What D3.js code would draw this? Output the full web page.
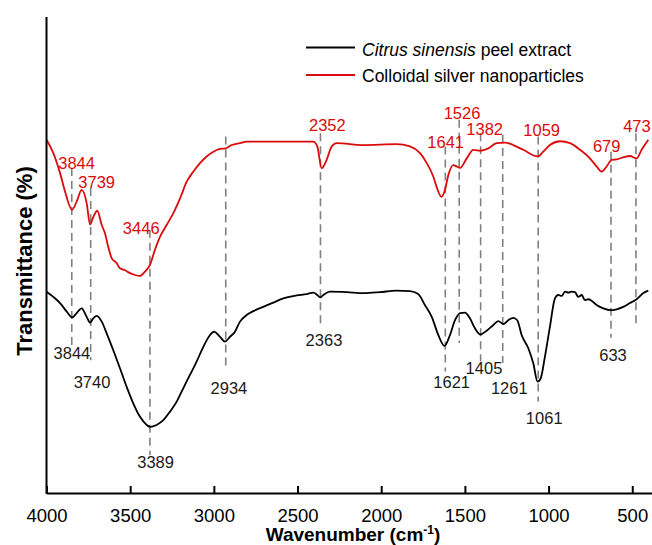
<!DOCTYPE html>
<html>
<head>
<meta charset="utf-8">
<script src="https://cdn.jsdelivr.net/npm/d3@7"></script>
<style>
  body { margin: 0; background: #fff; }
  svg text { font-family: "Liberation Sans", Arial, sans-serif; }
</style>
</head>
<body>
<svg id="chart" width="652" height="545"></svg>
<script>
// FTIR spectra, wavenumber (cm-1) and relative transmittance
var extractWn = [4000, 3959, 3919, 3879, 3847, 3820, 3790, 3760, 3740, 3720, 3700, 3670, 3640, 3601, 3561, 3521, 3481, 3441, 3401, 3380,
    3342, 3302, 3262, 3222, 3183, 3143, 3103, 3063, 3023, 2999, 2963, 2934, 2904, 2874, 2844, 2804, 2764, 2705, 2645, 2585,
    2505, 2445, 2406, 2382, 2365, 2346, 2306, 2206, 2107, 2007, 1908, 1828, 1779, 1739, 1698, 1659, 1622, 1589, 1559, 1529,
    1500, 1470, 1440, 1408, 1370, 1330, 1301, 1268, 1241, 1211, 1187, 1161, 1121, 1091, 1066, 1047, 1022, 992, 962, 942,
    922, 902, 882, 862, 842, 823, 802, 783, 763, 743, 713, 673, 633, 593, 554, 514, 474, 434, 404];
var extractT = [42.3, 41.2, 39.9, 38.1, 36.9, 37.8, 38.8, 37.0, 35.8, 36.7, 37.2, 36.0, 33.5, 30.0, 26.2, 22.3, 18.8, 16.0, 14.3, 13.9,
    14.3, 15.3, 17.1, 19.2, 22.0, 24.8, 27.6, 30.7, 33.2, 33.9, 32.8, 31.8, 32.8, 33.9, 36.0, 37.4, 38.2, 39.1, 40.0, 40.9,
    41.5, 41.8, 42.1, 41.6, 41.1, 41.6, 42.3, 42.2, 42.0, 42.2, 42.5, 42.4, 41.8, 39.5, 37.0, 33.2, 30.9, 33.2, 36.3, 37.8,
    37.9, 36.7, 34.6, 33.3, 34.1, 35.3, 36.1, 35.5, 36.3, 36.8, 36.3, 33.2, 30.4, 27.2, 23.4, 24.1, 28.6, 34.9, 40.9, 41.6,
    41.4, 42.3, 42.1, 42.3, 42.2, 41.2, 41.6, 40.5, 40.7, 40.4, 39.5, 38.8, 38.4, 38.6, 39.1, 39.9, 40.7, 42.0, 42.5];

var silverWn = [4000, 3959, 3919, 3889, 3847, 3820, 3790, 3760, 3740, 3720, 3697, 3670, 3651, 3631, 3610, 3581, 3561, 3531, 3501, 3471,
    3441, 3412, 3382, 3352, 3322, 3282, 3242, 3202, 3162, 3123, 3083, 3043, 3003, 2963, 2929, 2893, 2844, 2804, 2605, 2406,
    2382, 2356, 2326, 2296, 2266, 2107, 1908, 1828, 1768, 1728, 1689, 1667, 1640, 1619, 1599, 1569, 1549, 1529, 1489, 1450,
    1406, 1360, 1310, 1261, 1211, 1151, 1065, 1032, 992, 932, 872, 812, 753, 713, 683, 653, 623, 593, 554, 514,
    474, 444, 404];
var silverT = [74.2, 71.4, 67.2, 63.3, 59.5, 61.2, 63.7, 60.9, 56.4, 58.0, 59.3, 56.3, 54.6, 51.7, 49.3, 48.3, 47.2, 46.8, 46.2, 45.8,
    45.6, 46.5, 47.9, 51.1, 53.8, 56.3, 58.8, 61.9, 65.4, 67.5, 69.3, 70.7, 71.7, 72.3, 72.4, 73.1, 73.5, 73.8, 73.8, 73.8,
    72.8, 68.2, 70.0, 72.8, 73.5, 73.1, 73.3, 72.8, 71.4, 69.3, 66.5, 64.1, 62.2, 63.7, 66.8, 68.9, 68.6, 68.3, 70.3, 72.1,
    71.9, 72.4, 73.5, 73.6, 73.1, 72.1, 70.7, 71.7, 73.1, 73.9, 73.5, 72.1, 70.3, 68.6, 67.5, 68.6, 70.0, 70.1, 70.5, 70.8,
    70.3, 72.1, 74.2];

// dashed guide lines: wavenumber, top and bottom (transmittance units)
var guideWn = [3849, 3736, 3382, 2929, 2363, 1617, 1534, 1406, 1274, 1062, 627, 478];
var guideTop = [68.3, 64.1, 55.3, 74.9, 75.6, 72.8, 78.4, 75.6, 75.2, 74.9, 71.7, 75.6];
var guideBottom = [31.1, 27.9, 8.0, 26.5, 35.3, 25.5, 31.5, 27.6, 27.3, 19.2, 32.6, 35.3];

// peak labels: text, wavenumber, transmittance of the label centre
var silverLabels = ['3844', '3739', '3446', '2352', '1641', '1526', '1382', '1059', '679', '473'];
var silverLabelWn = [3820, 3700, 3434, 2322, 1615, 1517, 1382, 1041, 653, 472];
var silverLabelT = [69.3, 65.4, 55.6, 77.3, 73.8, 79.8, 76.4, 76.3, 72.8, 77.0];
var extractLabels = ['3844', '3740', '3389', '2934', '2363', '1621', '1405', '1261', '1061', '633'];
var extractLabelWn = [3848, 3728, 3348, 2910, 2342, 1579, 1386, 1235, 1026, 615];
var extractLabelT = [29.5, 23.4, 6.4, 22.1, 32.1, 23.4, 26.2, 22.0, 15.7, 29.0];

var xTicks = [4000, 3500, 3000, 2500, 2000, 1500, 1000, 500];

var RED = '#dc0a0a';

var svg = d3.select('#chart');
var x = d3.scaleLinear().domain([4000, 382]).range([46.5, 652]);
var y = d3.scaleLinear().domain([0, 100]).range([493, 17]);

// guide lines
svg.append('g').selectAll('line').data(guideWn).enter().append('line')
    .attr('x1', function (d) { return x(d); })
    .attr('x2', function (d) { return x(d); })
    .attr('y1', function (d, i) { return y(guideTop[i]); })
    .attr('y2', function (d, i) { return y(guideBottom[i]); })
    .attr('stroke', '#808080')
    .attr('stroke-width', 1.6)
    .attr('stroke-dasharray', '8,5');

var line = d3.line()
    .x(function (d) { return x(d[0]); })
    .y(function (d) { return y(d[1]); })
    .curve(d3.curveMonotoneX);

svg.append('path')
    .datum(d3.zip(extractWn, extractT))
    .attr('d', line)
    .attr('fill', 'none')
    .attr('stroke', '#000')
    .attr('stroke-width', 1.8);

svg.append('path')
    .datum(d3.zip(silverWn, silverT))
    .attr('d', line)
    .attr('fill', 'none')
    .attr('stroke', RED)
    .attr('stroke-width', 1.8);

// axes
var xAxis = svg.append('g')
    .attr('transform', 'translate(0,493)')
    .call(d3.axisBottom(x).tickValues(xTicks).tickSizeInner(-7).tickSizeOuter(0).tickPadding(15.5).tickFormat(d3.format('d')));
xAxis.select('.domain').attr('stroke-width', 2);
xAxis.selectAll('.tick line').attr('stroke-width', 2);
xAxis.selectAll('.tick text')
    .attr('font-size', '18.5px')
    .attr('fill', '#000')
    .style('font-family', '"Liberation Sans", Arial, sans-serif');

svg.append('line')
    .attr('x1', 46.5).attr('x2', 46.5)
    .attr('y1', 17).attr('y2', 494)
    .attr('stroke', '#000')
    .attr('stroke-width', 2);

// peak labels
svg.append('g').selectAll('text').data(silverLabels).enter().append('text')
    .attr('x', function (d, i) { return x(silverLabelWn[i]); })
    .attr('y', function (d, i) { return y(silverLabelT[i]); })
    .attr('dy', '0.36em')
    .attr('text-anchor', 'middle')
    .attr('font-size', '16.5px')
    .attr('fill', RED)
    .text(function (d) { return d; });

svg.append('g').selectAll('text').data(extractLabels).enter().append('text')
    .attr('x', function (d, i) { return x(extractLabelWn[i]); })
    .attr('y', function (d, i) { return y(extractLabelT[i]); })
    .attr('dy', '0.36em')
    .attr('text-anchor', 'middle')
    .attr('font-size', '16.5px')
    .attr('fill', '#1a1a1a')
    .text(function (d) { return d; });

// legend
var legend = svg.append('g');
legend.append('line').attr('x1', 306).attr('x2', 355).attr('y1', 47.5).attr('y2', 47.5)
    .attr('stroke', '#000').attr('stroke-width', 1.8);
legend.append('line').attr('x1', 306).attr('x2', 355).attr('y1', 75).attr('y2', 75)
    .attr('stroke', RED).attr('stroke-width', 1.8);
var t1 = legend.append('text').attr('x', 362).attr('y', 55.5).attr('font-size', '17.5px');
t1.append('tspan').attr('font-style', 'italic').text('Citrus sinensis');
t1.append('tspan').text(' peel extract');
legend.append('text').attr('x', 362).attr('y', 82.3).attr('font-size', '17.5px')
    .text('Colloidal silver nanoparticles');

// axis titles
var xt = svg.append('text')
    .attr('x', 353).attr('y', 541)
    .attr('text-anchor', 'middle')
    .attr('font-size', '19px')
    .attr('font-weight', 'bold');
xt.append('tspan').text('Wavenumber (cm');
xt.append('tspan').attr('font-size', '12px').attr('dy', '-7').text('-1');
xt.append('tspan').attr('dy', '7').text(')');

svg.append('text')
    .attr('transform', 'translate(32,261) rotate(-90)')
    .attr('text-anchor', 'middle')
    .attr('font-size', '22px')
    .attr('font-weight', 'bold')
    .text('Transmittance (%)');
</script>
</body>
</html>
